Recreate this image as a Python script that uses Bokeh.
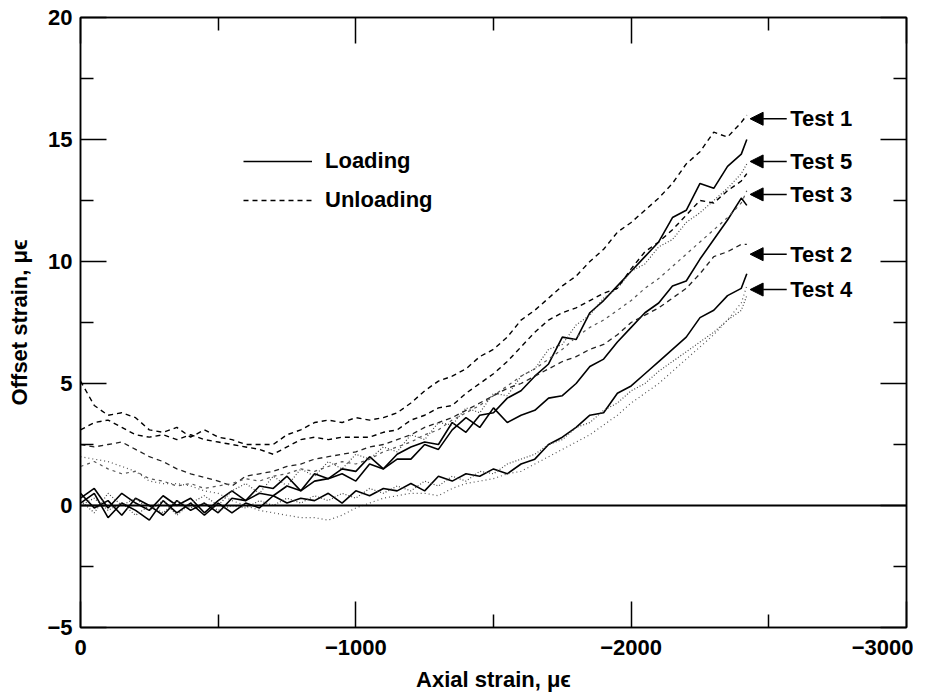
from bokeh.plotting import figure
from bokeh.models import (Range1d, FixedTicker, LinearAxis, Span, Arrow, NormalHead,
                          Legend, LegendItem, ColumnDataSource)
from bokeh.core.properties import value
from bokeh.embed import file_html
from bokeh.resources import INLINE

FONT = "Liberation Sans"

# ---------------- data ----------------
strain = [0, -50, -100, -150, -200, -250, -300, -350, -400, -450,
          -500, -550, -600, -650, -700, -750, -800, -850, -900, -950,
          -1000, -1050, -1100, -1150, -1200, -1250, -1300, -1350, -1400, -1450,
          -1500, -1550, -1600, -1650, -1700, -1750, -1800, -1850, -1900, -1950,
          -2000, -2050, -2100, -2150, -2200, -2250, -2300, -2350, -2400, -2420]

# loading curves
load_t5 = [0.3, 0.7, -0.1, 0.5, 0.1, -0.2, 0.4, 0.0, 0.3, -0.3,
           0.2, 0.6, 0.2, 0.8, 0.7, 1.2, 0.6, 1.3, 1.1, 1.5,
           1.4, 2.0, 1.5, 2.1, 2.4, 2.6, 2.5, 3.4, 3.0, 3.7,
           3.8, 4.4, 4.7, 5.3, 5.8, 6.9, 6.8, 7.9, 8.4, 9.0,
           9.6, 10.2, 10.8, 11.8, 12.1, 13.2, 13.0, 13.9, 14.4, 15.0]
load_t3 = [0.5, -0.1, 0.2, -0.4, 0.3, 0.0, -0.4, 0.2, -0.2, 0.1,
           -0.3, 0.3, 0.2, 0.5, 0.4, 0.8, 0.6, 1.0, 1.1, 1.3,
           1.0, 1.7, 1.5, 1.9, 1.9, 2.5, 2.3, 3.1, 3.6, 3.2,
           4.0, 3.4, 3.7, 3.9, 4.4, 4.5, 5.0, 5.7, 6.0, 6.7,
           7.3, 7.9, 8.3, 9.0, 9.2, 10.1, 10.9, 11.7, 12.6, 12.3]
load_t4 = [0.1, 0.5, -0.5, 0.1, -0.2, -0.6, 0.2, -0.3, 0.1, -0.4,
           0.1, -0.3, 0.1, -0.1, 0.4, 0.1, 0.3, 0.2, 0.5, 0.1,
           0.6, 0.4, 0.7, 0.6, 0.9, 0.6, 1.2, 1.0, 1.3, 1.2,
           1.5, 1.3, 1.7, 1.9, 2.5, 2.8, 3.2, 3.7, 3.8, 4.6,
           4.9, 5.4, 5.9, 6.4, 6.9, 7.7, 8.0, 8.6, 8.9, 9.5]
load_t1 = [0.2, -0.3, 0.5, 0.0, 0.3, -0.2, 0.2, -0.4, 0.1, 0.4,
           0.0, 0.6, 0.9, 0.5, 1.2, 0.8, 1.5, 1.2, 1.8, 1.5,
           2.1, 1.9, 2.4, 2.2, 2.9, 2.7, 3.4, 3.3, 4.0, 3.8,
           4.6, 4.5, 5.3, 5.6, 6.4, 6.6, 7.4, 7.8, 8.5, 8.9,
           9.6, 9.9, 10.6, 10.9, 11.6, 12.0, 12.5, 13.0, 13.6, 14.0]
load_t2 = [0.0, 0.3, -0.2, 0.1, -0.4, 0.0, -0.3, 0.2, -0.1, 0.1,
           -0.2, 0.0, -0.1, 0.2, 0.0, 0.3, 0.1, 0.4, 0.2, 0.5,
           0.3, 0.7, 0.5, 0.8, 0.6, 1.0, 0.8, 1.2, 1.0, 1.4,
           1.3, 1.7, 1.9, 2.1, 2.5, 2.7, 3.2, 3.4, 3.9, 4.2,
           4.7, 5.0, 5.5, 5.9, 6.3, 6.7, 7.1, 7.6, 8.0, 8.6]

# unloading curves
unload_t1 = [5.1, 4.1, 3.7, 3.8, 3.6, 3.1, 3.0, 3.2, 2.8, 3.1,
             2.8, 2.7, 2.5, 2.5, 2.5, 2.9, 3.1, 3.4, 3.5, 3.4,
             3.6, 3.5, 3.6, 3.8, 4.2, 4.7, 5.1, 5.3, 5.6, 6.1,
             6.4, 6.9, 7.6, 8.0, 8.5, 9.0, 9.4, 10.0, 10.5, 11.2,
             11.6, 12.1, 12.6, 13.2, 14.0, 14.5, 15.3, 15.1, 15.7, 16.0]
unload_t5 = [3.1, 3.4, 3.5, 3.2, 2.9, 2.8, 2.9, 2.7, 2.9, 2.7,
             2.6, 2.5, 2.4, 2.3, 2.1, 2.4, 2.7, 2.8, 2.7, 2.8,
             2.8, 2.8, 3.0, 3.1, 3.5, 3.7, 4.0, 4.1, 4.6, 5.0,
             5.4, 5.9, 6.5, 7.1, 7.6, 7.9, 8.1, 8.4, 8.7, 8.9,
             9.7, 10.4, 10.8, 11.3, 11.9, 12.5, 12.4, 12.9, 13.3, 13.6]
unload_t2 = [2.5, 2.4, 2.5, 2.6, 2.3, 2.0, 1.8, 1.5, 1.3, 1.15,
             1.0, 0.8, 1.2, 1.3, 1.4, 1.6, 1.7, 1.9, 2.0, 2.1,
             2.2, 2.4, 2.5, 2.7, 2.9, 3.2, 3.4, 3.6, 3.9, 4.2,
             4.5, 4.8, 5.0, 5.3, 5.6, 5.9, 6.1, 6.4, 6.6, 7.0,
             7.5, 7.8, 8.1, 8.5, 8.9, 9.5, 10.2, 10.4, 10.7, 10.7]
unload_t3 = [1.6, 1.8, 1.5, 1.3, 1.4, 1.1, 1.0, 0.8, 0.9, 0.7,
             0.8, 0.9, 1.1, 1.0, 1.2, 1.3, 1.5, 1.4, 1.6, 1.8,
             1.7, 1.9, 2.2, 2.4, 2.6, 2.9, 3.1, 3.5, 3.8, 4.1,
             4.5, 4.9, 5.3, 5.6, 6.0, 6.4, 6.9, 7.3, 7.6, 8.0,
             8.4, 8.9, 9.3, 9.8, 10.3, 10.8, 11.3, 11.8, 12.4, 12.9]
unload_t4 = [2.0, 1.9, 1.8, 1.6, 1.4, 1.0, 0.9, 0.9, 0.8, 0.6,
             0.5, 0.2, 0.0, -0.2, -0.3, -0.4, -0.5, -0.5, -0.6, -0.4,
             -0.1, 0.1, 0.3, 0.4, 0.5, 0.5, 0.4, 0.7, 0.9, 1.0,
             1.1, 1.3, 1.4, 1.7, 2.0, 2.3, 2.6, 2.9, 3.3, 3.7,
             4.2, 4.6, 5.0, 5.5, 6.0, 6.5, 7.0, 7.6, 8.3, 9.0]

# ticks
x_major = [0, -1000, -2000, -3000]
x_minor = [-500, -1500, -2500]
y_major = [-5, 0, 5, 10, 15, 20]
y_minor = [-2.5, 2.5, 7.5, 12.5, 17.5]

# test annotations
test_names = ["Test 1", "Test 5", "Test 3", "Test 2", "Test 4"]
test_y = [15.85, 14.1, 12.75, 10.3, 8.85]
label_x = -2578
arrow_tail = -2565
arrow_head = -2432
zero_level = 0

# ---------------- figure ----------------
p = figure(width=913, height=696, x_range=Range1d(0, -3000), y_range=Range1d(-5, 20),
           output_backend="svg", toolbar_location=None,
           min_border_left=80, min_border_right=7, min_border_top=17, min_border_bottom=69)
p.grid.visible = False
p.outline_line_color = "black"
p.outline_line_width = 1.5
p.background_fill_color = "white"
p.border_fill_color = "white"


def minus(v):
    s = ("%g" % v)
    return s.replace("-", "\u2212")


def style_axis(ax, major, minor, show_labels=True):
    ax.ticker = FixedTicker(ticks=major, minor_ticks=minor)
    ax.major_tick_in = 26
    ax.major_tick_out = 0
    ax.minor_tick_in = 13
    ax.minor_tick_out = 0
    ax.axis_line_width = 1.5
    ax.major_tick_line_width = 1.5
    ax.minor_tick_line_width = 1.5
    ax.axis_line_color = "black"
    ax.major_tick_line_color = "black"
    ax.minor_tick_line_color = "black"
    if show_labels:
        ax.major_label_text_font = FONT
        ax.major_label_text_font_style = "bold"
        ax.major_label_text_font_size = "22px"
        ax.major_label_text_color = "black"
        ax.major_label_overrides = {v: minus(v) for v in major}
    else:
        ax.major_label_overrides = {v: "" for v in major}
        ax.major_label_standoff = 0


xa = p.xaxis[0]
style_axis(xa, x_major, x_minor)
xa.major_label_standoff = 12
xa.axis_label = "Axial strain, \u03bc\u03f5"
xa.axis_label_text_font = FONT
xa.axis_label_text_font_style = "bold"
xa.axis_label_text_font_size = "22px"
xa.axis_label_text_color = "black"
xa.axis_label_standoff = 9

ya = p.yaxis[0]
style_axis(ya, y_major, y_minor)
ya.major_label_standoff = 8
ya.axis_label = "Offset strain, \u03bc\u03f5"
ya.axis_label_text_font = FONT
ya.axis_label_text_font_style = "bold"
ya.axis_label_text_font_size = "22px"
ya.axis_label_text_color = "black"
ya.axis_label_standoff = 12

top = LinearAxis()
style_axis(top, x_major, x_minor, show_labels=False)
p.add_layout(top, "above")
right = LinearAxis()
style_axis(right, y_major, y_minor, show_labels=False)
p.add_layout(right, "right")

p.add_layout(Span(location=zero_level, dimension="width", line_color="black", line_width=2))

# curves
r_t5 = p.line(strain, load_t5, line_color="black", line_width=1.6)
p.line(strain, load_t3, line_color="black", line_width=1.6)
p.line(strain, load_t4, line_color="black", line_width=1.6)
p.line(strain, load_t1, line_color="#444444", line_width=1.2, line_dash="1 2")
p.line(strain, load_t2, line_color="#444444", line_width=1.2, line_dash="1 2")

r_u1 = p.line(strain, unload_t1, line_color="black", line_width=1.4, line_dash="5 4")
p.line(strain, unload_t5, line_color="black", line_width=1.4, line_dash="5 4")
p.line(strain, unload_t2, line_color="#222222", line_width=1.3, line_dash="5 4")
p.line(strain, unload_t3, line_color="#555555", line_width=1.2, line_dash="3 4")
p.line(strain, unload_t4, line_color="#555555", line_width=1.2, line_dash="1 3")

# legend
legend = Legend(items=[LegendItem(label="Loading", renderers=[r_t5]),
                       LegendItem(label="Unloading", renderers=[r_u1])],
                location=(163, 414), glyph_width=69, glyph_height=26, label_height=26,
                spacing=13, padding=0, margin=0, label_standoff=13,
                border_line_alpha=0, background_fill_alpha=0,
                label_text_font=FONT, label_text_font_style="bold",
                label_text_font_size="22px", label_text_color="black")
p.add_layout(legend)

# test labels with arrows
arr_src = ColumnDataSource(dict(x0=[arrow_tail] * len(test_y), x1=[arrow_head] * len(test_y), y=test_y))
p.add_layout(Arrow(x_start="x0", y_start="y", x_end="x1", y_end="y", source=arr_src,
                   line_color="black", line_width=1.5,
                   end=NormalHead(size=13, fill_color="black", line_color="black")))
p.text(x=[label_x] * len(test_y), y=test_y, text=test_names,
       text_font=value(FONT), text_font_style="bold", text_font_size="22px",
       text_baseline="middle", text_align="left", text_color="black")

open("out.html", "w").write(file_html(p, INLINE))
